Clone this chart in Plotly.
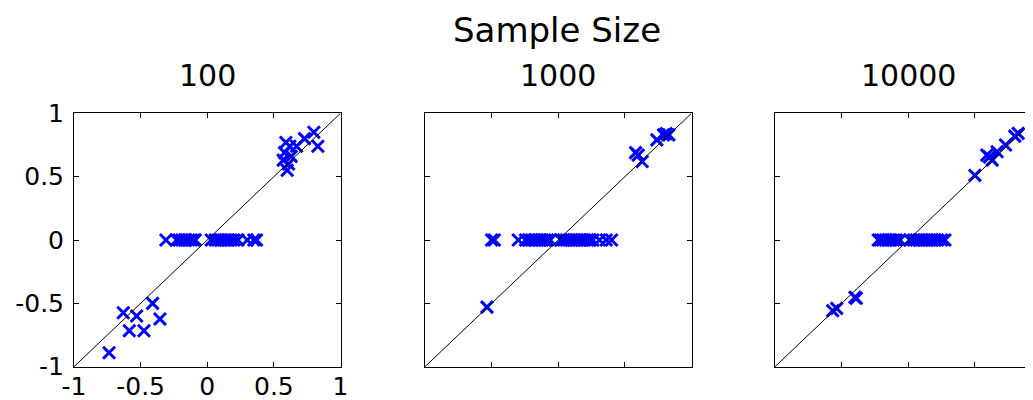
import plotly.graph_objects as go

# ---- data ----
panel_titles = ["100", "1000", "10000"]
tick_vals = [-1, -0.5, 0, 0.5, 1]
tick_text = ["-1", "-0.5", "0", "0.5", "1"]

# Sample size 100
x100 = [0.59, 0.62, 0.67, 0.73, 0.80, 0.83, 0.58, 0.57, 0.61, 0.60, 0.63,
        -0.63, -0.53, -0.41, -0.355, -0.585, -0.475, -0.737,
        -0.31, -0.23, -0.21, -0.19, -0.17, -0.16, -0.14, -0.12, -0.10, -0.09,
        0.03, 0.06, 0.08, 0.10, 0.12, 0.14, 0.16, 0.18, 0.20, 0.23, 0.30, 0.35, 0.37]
y100 = [0.77, 0.74, 0.74, 0.80, 0.85, 0.74, 0.69, 0.63, 0.60, 0.55, 0.66,
        -0.574, -0.60, -0.50, -0.624, -0.716, -0.716, -0.89,
        0, 0, 0, 0, 0, 0, 0, 0, 0, 0,
        0, 0, 0, 0, 0, 0, 0, 0, 0, 0, 0, 0, 0]

# Sample size 1000
x1000 = [-0.535,
         -0.50, -0.48, -0.30, -0.245, -0.22, -0.20, -0.18, -0.16, -0.14, -0.12, -0.10, -0.08, -0.06,
         0.02, 0.04, 0.06, 0.08, 0.10, 0.12, 0.14, 0.16, 0.18, 0.20, 0.22, 0.24, 0.26, 0.31, 0.36, 0.40,
         0.58, 0.60, 0.63, 0.74, 0.79, 0.81, 0.83]
y1000 = [-0.53,
         0, 0, 0, 0, 0, 0, 0, 0, 0, 0, 0, 0, 0,
         0, 0, 0, 0, 0, 0, 0, 0, 0, 0, 0, 0, 0, 0, 0, 0,
         0.69, 0.67, 0.62, 0.79, 0.83, 0.84, 0.83]

# Sample size 10000
x10000 = [-0.567, -0.537, -0.40, -0.39,
          -0.225, -0.21, -0.19, -0.17, -0.15, -0.13, -0.11, -0.09, -0.0625,
          0.0125, 0.04, 0.06, 0.08, 0.10, 0.12, 0.14, 0.16, 0.18, 0.20, 0.22, 0.25, 0.275,
          0.50, 0.59, 0.61, 0.63, 0.667, 0.73, 0.80, 0.825]
y10000 = [-0.558, -0.54, -0.453, -0.46,
          0, 0, 0, 0, 0, 0, 0, 0, 0,
          0, 0, 0, 0, 0, 0, 0, 0, 0, 0, 0, 0, 0,
          0.51, 0.67, 0.655, 0.63, 0.697, 0.75, 0.82, 0.842]

series = [(x100, y100), (x1000, y1000), (x10000, y10000)]

# ---- layout geometry (page has an 8px body margin) ----
OFF = 8
W, H = 1033 - OFF, 400 - OFF
PW = 266.5
lefts = [74 - OFF, 425 - OFF, 775 - OFF]
x_domains = [[lefts[0] / W, (lefts[0] + PW) / W],
             [lefts[1] / W, (lefts[1] + PW) / W],
             [lefts[2] / W, 1.0]]
y_domain = [1 - (366.7 - OFF) / H, 1 - (113.3 - OFF) / H]
x_ranges = [[-1, 1], [-1, 1], [-1, -1 + 2 * (W - lefts[2]) / PW]]

FONT = "DejaVu Sans"
fig = go.Figure()

for i, (xs, ys) in enumerate(series):
    ax = "" if i == 0 else str(i + 1)
    fig.add_trace(go.Scatter(
        x=xs, y=ys, mode="markers", xaxis="x" + ax, yaxis="y" + ax,
        marker=dict(symbol="x-thin", size=12, line=dict(width=3, color="#0000ff"), color="#0000ff"),
        showlegend=False, hoverinfo="skip"))
    fig.add_trace(go.Scatter(
        x=[-1, 1], y=[-1, 1], mode="lines", xaxis="x" + ax, yaxis="y" + ax,
        line=dict(color="black", width=1), showlegend=False, hoverinfo="skip"))

    common = dict(showgrid=False, zeroline=False, showline=True, linecolor="black", linewidth=1,
                  ticks="inside", ticklen=5, tickcolor="black", tickwidth=1,
                  tickvals=tick_vals, ticktext=tick_text, automargin=False,
                  tickfont=dict(family=FONT, size=25, color="black"),
                  showticklabels=(i == 0))
    xa = dict(common, domain=x_domains[i], range=x_ranges[i], anchor="y" + ax,
              mirror="allticks", ticklabelstandoff=-3)
    ya = dict(common, domain=y_domain, range=[-1, 1], anchor="x" + ax,
              mirror=("allticks" if i < 2 else False), ticklabelstandoff=4)
    fig.layout["xaxis" + ax] = xa
    fig.layout["yaxis" + ax] = ya

    cx = (lefts[i] + PW / 2) / W
    fig.add_annotation(text=panel_titles[i], x=cx, y=1 - (75 - OFF) / H, xref="paper", yref="paper",
                       xanchor="center", yanchor="middle", showarrow=False,
                       font=dict(family=FONT, size=30, color="black"))

fig.add_annotation(text="Sample Size", x=(557 - OFF) / W, y=1.0,
                   xref="paper", yref="paper",
                   xanchor="center", yanchor="top", showarrow=False,
                   font=dict(family=FONT, size=34, color="black"))

fig.update_layout(width=W, height=H, margin=dict(l=0, r=0, t=0, b=0),
                  paper_bgcolor="white", plot_bgcolor="white", autosize=False,
                  hovermode=False, font=dict(family=FONT, color="black"))

fig.write_html("out.html")
